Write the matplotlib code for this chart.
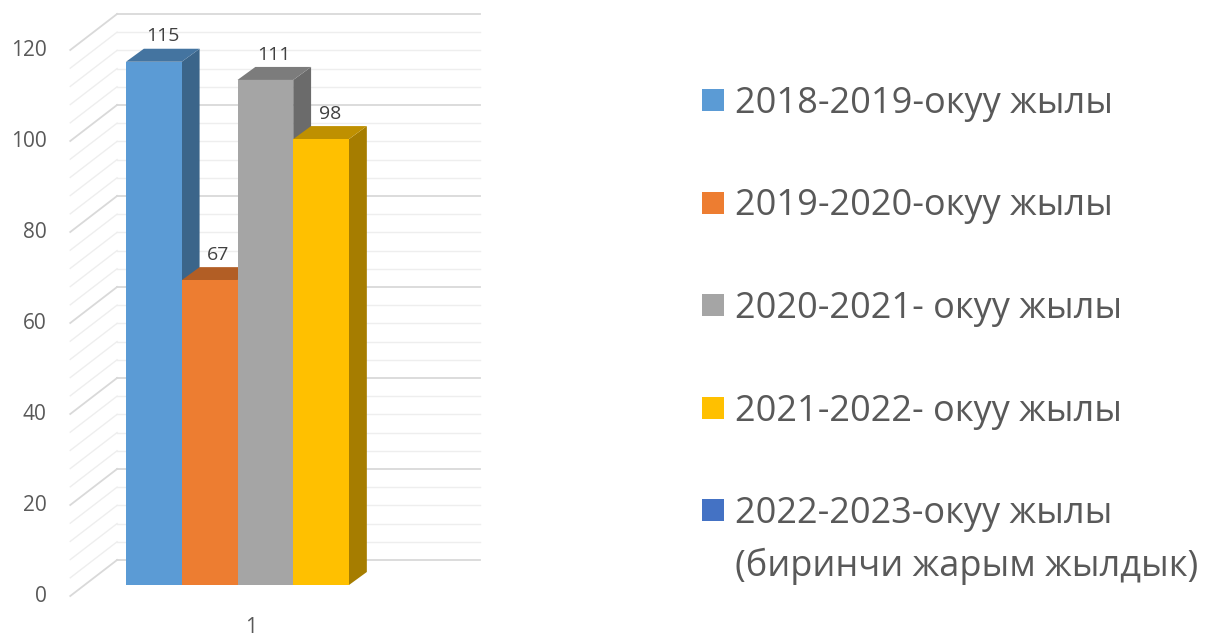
import matplotlib.pyplot as plt
from matplotlib.patches import Polygon, Rectangle
from matplotlib.colors import to_rgb

plt.rcParams['font.family'] = ['Open Sans', 'DejaVu Sans']

# data
series = ['2018-2019-окуу жылы', '2019-2020-окуу жылы', '2020-2021- окуу жылы',
          '2021-2022- окуу жылы', '2022-2023-окуу жылы\n(биринчи жарым жылдык)']
values = [115, 67, 111, 98, None]
colors = ['#5B9BD5', '#ED7D31', '#A5A5A5', '#FFC000', '#4472C4']
category = '1'
y_ticks = [0, 20, 40, 60, 80, 100, 120]
y_max = 120
grid_step = 4

text_col = '#595959'

# pseudo-3d geometry (data units: x = bar widths, y = values)
depth_dx, depth_dy = 0.32, 2.86      # bar depth
back_dx, back_dy = 0.59, 5.5         # back wall behind bar plane
front_dx, front_dy = -0.25, -2.42    # front edge of side wall
wall_left, wall_right = -0.75, 5.76


def shade(c, k):
    r, g, b = to_rgb(c)
    return (r * k, g * k, b * k)


fig = plt.figure(figsize=(12.23, 6.36), dpi=100)
ax = fig.add_axes([0, 0, 1, 1])
ax.set_xlim(-126 / 55.75, (1223 - 126) / 55.75)
ax.set_ylim(-51 / 4.55, 585 / 4.55)
ax.axis('off')

# walls: back horizontal lines and left diagonals
for v in range(0, y_max + 1, grid_step):
    major = v % 20 == 0
    col = '#D9D9D9' if major else '#EEEEEE'
    lw = 1.3 if major else 1.0
    xb = wall_left + back_dx
    ax.plot([xb, wall_right + back_dx], [v + back_dy, v + back_dy], color=col, lw=lw, zorder=1)
    ax.plot([wall_left + front_dx, xb], [v + front_dy, v + back_dy], color=col, lw=lw, zorder=1)

# y tick labels at the front edge
for v in y_ticks:
    ax.text(wall_left + front_dx - 0.42, v + front_dy - 0.2, str(v), ha='right', va='center',
            fontsize=15, color=text_col)

# bars, left to right so later faces cover earlier sides
for i, (v, c) in enumerate(zip(values, colors)):
    if v is None:
        continue
    x0, x1 = i, i + 1
    side = Polygon([(x1, 0), (x1 + depth_dx, depth_dy), (x1 + depth_dx, v + depth_dy), (x1, v)],
                   closed=True, facecolor=shade(c, 0.65), edgecolor='none', zorder=2 + i)
    top = Polygon([(x0, v), (x1, v), (x1 + depth_dx, v + depth_dy), (x0 + depth_dx, v + depth_dy)],
                  closed=True, facecolor=shade(c, 0.75), edgecolor='none', zorder=2 + i)
    ax.add_patch(side)
    ax.add_patch(top)
    ax.add_patch(Rectangle((x0, 0), 1, v, facecolor=c, edgecolor='none', zorder=2 + i))
    ax.text(x0 + 0.5 + depth_dx / 2, v + depth_dy + 2.7, str(v), ha='center', va='center',
            fontsize=14, color='#404040', zorder=20)

n_bars = sum(1 for v in values if v is not None)
ax.text(n_bars / 2 + 0.25, -9.4, category, ha='center', va='center', fontsize=15, color=text_col)

# legend
leg_x, leg_y0, leg_step = 702 / 1223, 1 - 100 / 636, 102.5 / 636
for j, (name, c) in enumerate(zip(series, colors)):
    y = leg_y0 - j * leg_step
    fig.patches.append(Rectangle((leg_x, y - 11 / 636), 22 / 1223, 22 / 636,
                                 transform=fig.transFigure, facecolor=c, edgecolor='none'))
    fig.text(leg_x + 33 / 1223, y + 14 / 636, name, ha='left', va='top', fontsize=26,
             color=text_col, linespacing=1.55)

fig.savefig('out.png', dpi=100)
